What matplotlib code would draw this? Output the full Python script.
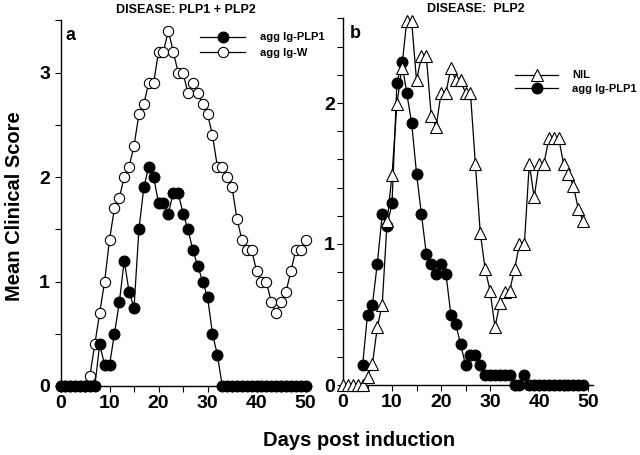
import matplotlib
matplotlib.use('Agg')
import matplotlib.pyplot as plt
from matplotlib.ticker import MultipleLocator, FixedLocator
from matplotlib.lines import Line2D

plt.rcParams['font.family'] = ['Liberation Sans', 'DejaVu Sans']
plt.rcParams['font.weight'] = 'bold'

# ---------------- data ----------------
days_a = list(range(0, 51))
score_a_plp1 = [0, 0, 0, 0, 0, 0, 0, 0,
                0.4, 0.2, 0.2, 0.5, 0.8, 1.2, 0.9, 0.75, 1.5, 1.9, 2.1, 2.0,
                1.75, 1.75, 1.65, 1.85, 1.85, 1.65, 1.5, 1.3, 1.15, 1.0, 0.85,
                0.5, 0.3,
                0, 0, 0, 0, 0, 0, 0, 0, 0, 0, 0, 0, 0, 0, 0, 0, 0, 0]
score_a_w = [0, 0, 0, 0, 0, 0,
             0.1, 0.4, 0.7, 1.0, 1.4, 1.7, 1.8, 2.0, 2.1, 2.3, 2.6, 2.7, 2.9,
             2.9, 3.2, 3.2, 3.4, 3.2, 3.0, 3.0, 2.8, 2.9, 2.8, 2.7, 2.6, 2.4,
             2.1, 2.1, 2.0, 1.9, 1.6, 1.4, 1.3, 1.3, 1.1, 1.0, 1.0, 0.8, 0.7,
             0.8, 0.9, 1.1, 1.3, 1.3, 1.4]

days_b_nil = list(range(0, 50))
score_b_nil = [0, 0, 0, 0, 0,
               0.06, 0.15, 0.41, 0.57, 1.16, 1.49, 1.99, 2.25, 2.58, 2.58,
               2.16, 2.33, 2.33, 1.91, 1.83, 2.07, 2.07, 2.25, 2.16, 2.16,
               2.07, 2.07, 1.57, 1.08, 0.82, 0.67, 0.41, 0.58, 0.66, 0.67,
               0.82, 1.0, 1.0, 1.57, 1.33, 1.57, 1.57, 1.75, 1.75, 1.75,
               1.57, 1.5, 1.41, 1.25, 1.16]
days_b_plp1 = list(range(4, 50))
score_b_plp1 = [0.14, 0.5, 0.57, 0.86, 1.21, 1.13, 1.29, 2.14, 2.29, 2.07,
                1.86, 1.5, 1.21, 0.93, 0.86, 0.79, 0.86, 0.79, 0.5, 0.43,
                0.29, 0.14, 0.21, 0.21, 0.14, 0.07, 0.07, 0.07, 0.07, 0.07,
                0.07, 0, 0, 0.07,
                0, 0, 0, 0, 0, 0, 0, 0, 0, 0, 0, 0]

title_a = "DISEASE: PLP1 + PLP2"
title_b = "DISEASE:  PLP2"
ylabel = "Mean Clinical Score"
xlabel = "Days post induction"

# ---------------- layout ----------------
W, H = 640, 455
fig = plt.figure(figsize=(W / 100, H / 100), dpi=100)

def fx(px):
    return px / W

def fy(py):
    return 1 - py / H

ax_a = fig.add_axes([fx(60.5), fy(386), fx(250), (386 - 20.25) / H])
ax_b = fig.add_axes([fx(343), fy(385), fx(250), (385 - 18.4) / H])

line_kw = dict(color='black', lw=0.9, clip_on=False)
open_c = dict(marker='o', ms=7.4, mfc='white', mec='black', mew=0.8)
fill_c = dict(marker='o', ms=7.8, mfc='black', mec='black', mew=0.8)
tri = dict(marker='^', ms=8.4, mfc='white', mec='black', mew=0.8)

ax_a.plot(days_a, score_a_w, zorder=3, label='agg Ig-W', **line_kw, **open_c)
ax_a.plot(days_a, score_a_plp1, zorder=4, label='agg Ig-PLP1', **line_kw, **fill_c)

ax_b.plot(days_b_plp1, score_b_plp1, zorder=3, label='agg Ig-PLP1', **line_kw, **fill_c)
ax_b.plot(days_b_nil, score_b_nil, zorder=4, label='NIL', **line_kw, **tri)

ax_a.set_xlim(0, 51)
ax_a.set_ylim(0, 3.5)
ax_b.set_xlim(0, 51)
ax_b.set_ylim(0, 2.6)

for ax, ymaj, ymin, ypad in [(ax_a, [0, 1, 2, 3], 0.5, 3.2), (ax_b, [0, 1, 2], 0.2, 1.4)]:
    for s in ['top', 'right']:
        ax.spines[s].set_visible(False)
    for s in ['left', 'bottom']:
        ax.spines[s].set_linewidth(1.0)
    ax.yaxis.set_major_locator(FixedLocator(ymaj))
    ax.yaxis.set_minor_locator(MultipleLocator(ymin))
    ax.xaxis.set_major_locator(MultipleLocator(10))
    ax.xaxis.set_minor_locator(MultipleLocator(5))
    ax.tick_params(axis='both', which='both', direction='out', length=4.3,
                   width=0.8, labelsize=14)
    ax.tick_params(axis='y', which='major', pad=ypad)
    ax.tick_params(axis='x', which='major', pad=2.5)
    for lab in ax.get_xticklabels() + ax.get_yticklabels():
        lab.set_fontweight('bold')

# titles and labels
fig.text(fx(186), fy(10), title_a, ha='center', va='center', fontsize=9, fontweight='bold')
fig.text(fx(476), fy(9), title_b, ha='center', va='center', fontsize=9, fontweight='bold')
fig.text(fx(71), fy(36), 'a', ha='center', va='center', fontsize=13, fontweight='bold')
fig.text(fx(355), fy(34), 'b', ha='center', va='center', fontsize=13, fontweight='bold')
fig.text(fx(15), fy(206), ylabel, rotation=90, ha='center', va='center',
         fontsize=14.5, fontweight='bold')
fig.text(fx(359), fy(440), xlabel, ha='center', va='center',
         fontsize=14.5, fontweight='bold')

# legends
h_a = [Line2D([], [], color='black', lw=0.9, **fill_c),
       Line2D([], [], color='black', lw=0.9, **open_c)]
leg_a = fig.legend(h_a, ['agg Ig-PLP1', 'agg Ig-W'], loc='upper left',
                   bbox_to_anchor=(fx(200), fy(32.5)), frameon=False,
                   borderpad=0, borderaxespad=0, handlelength=4.05,
                   handletextpad=1.35, labelspacing=0.5,
                   prop={'size': 8, 'weight': 'bold'})
h_b = [Line2D([], [], color='black', lw=0.9, **tri),
       Line2D([], [], color='black', lw=0.9, **fill_c)]
leg_b = fig.legend(h_b, ['NIL', 'agg Ig-PLP1'], loc='upper left',
                   bbox_to_anchor=(fx(515), fy(70.5)), frameon=False,
                   borderpad=0, borderaxespad=0, handlelength=3.9,
                   handletextpad=1.26, labelspacing=0.32,
                   prop={'size': 8, 'weight': 'bold'})

fig.savefig('out.png', dpi=100)
